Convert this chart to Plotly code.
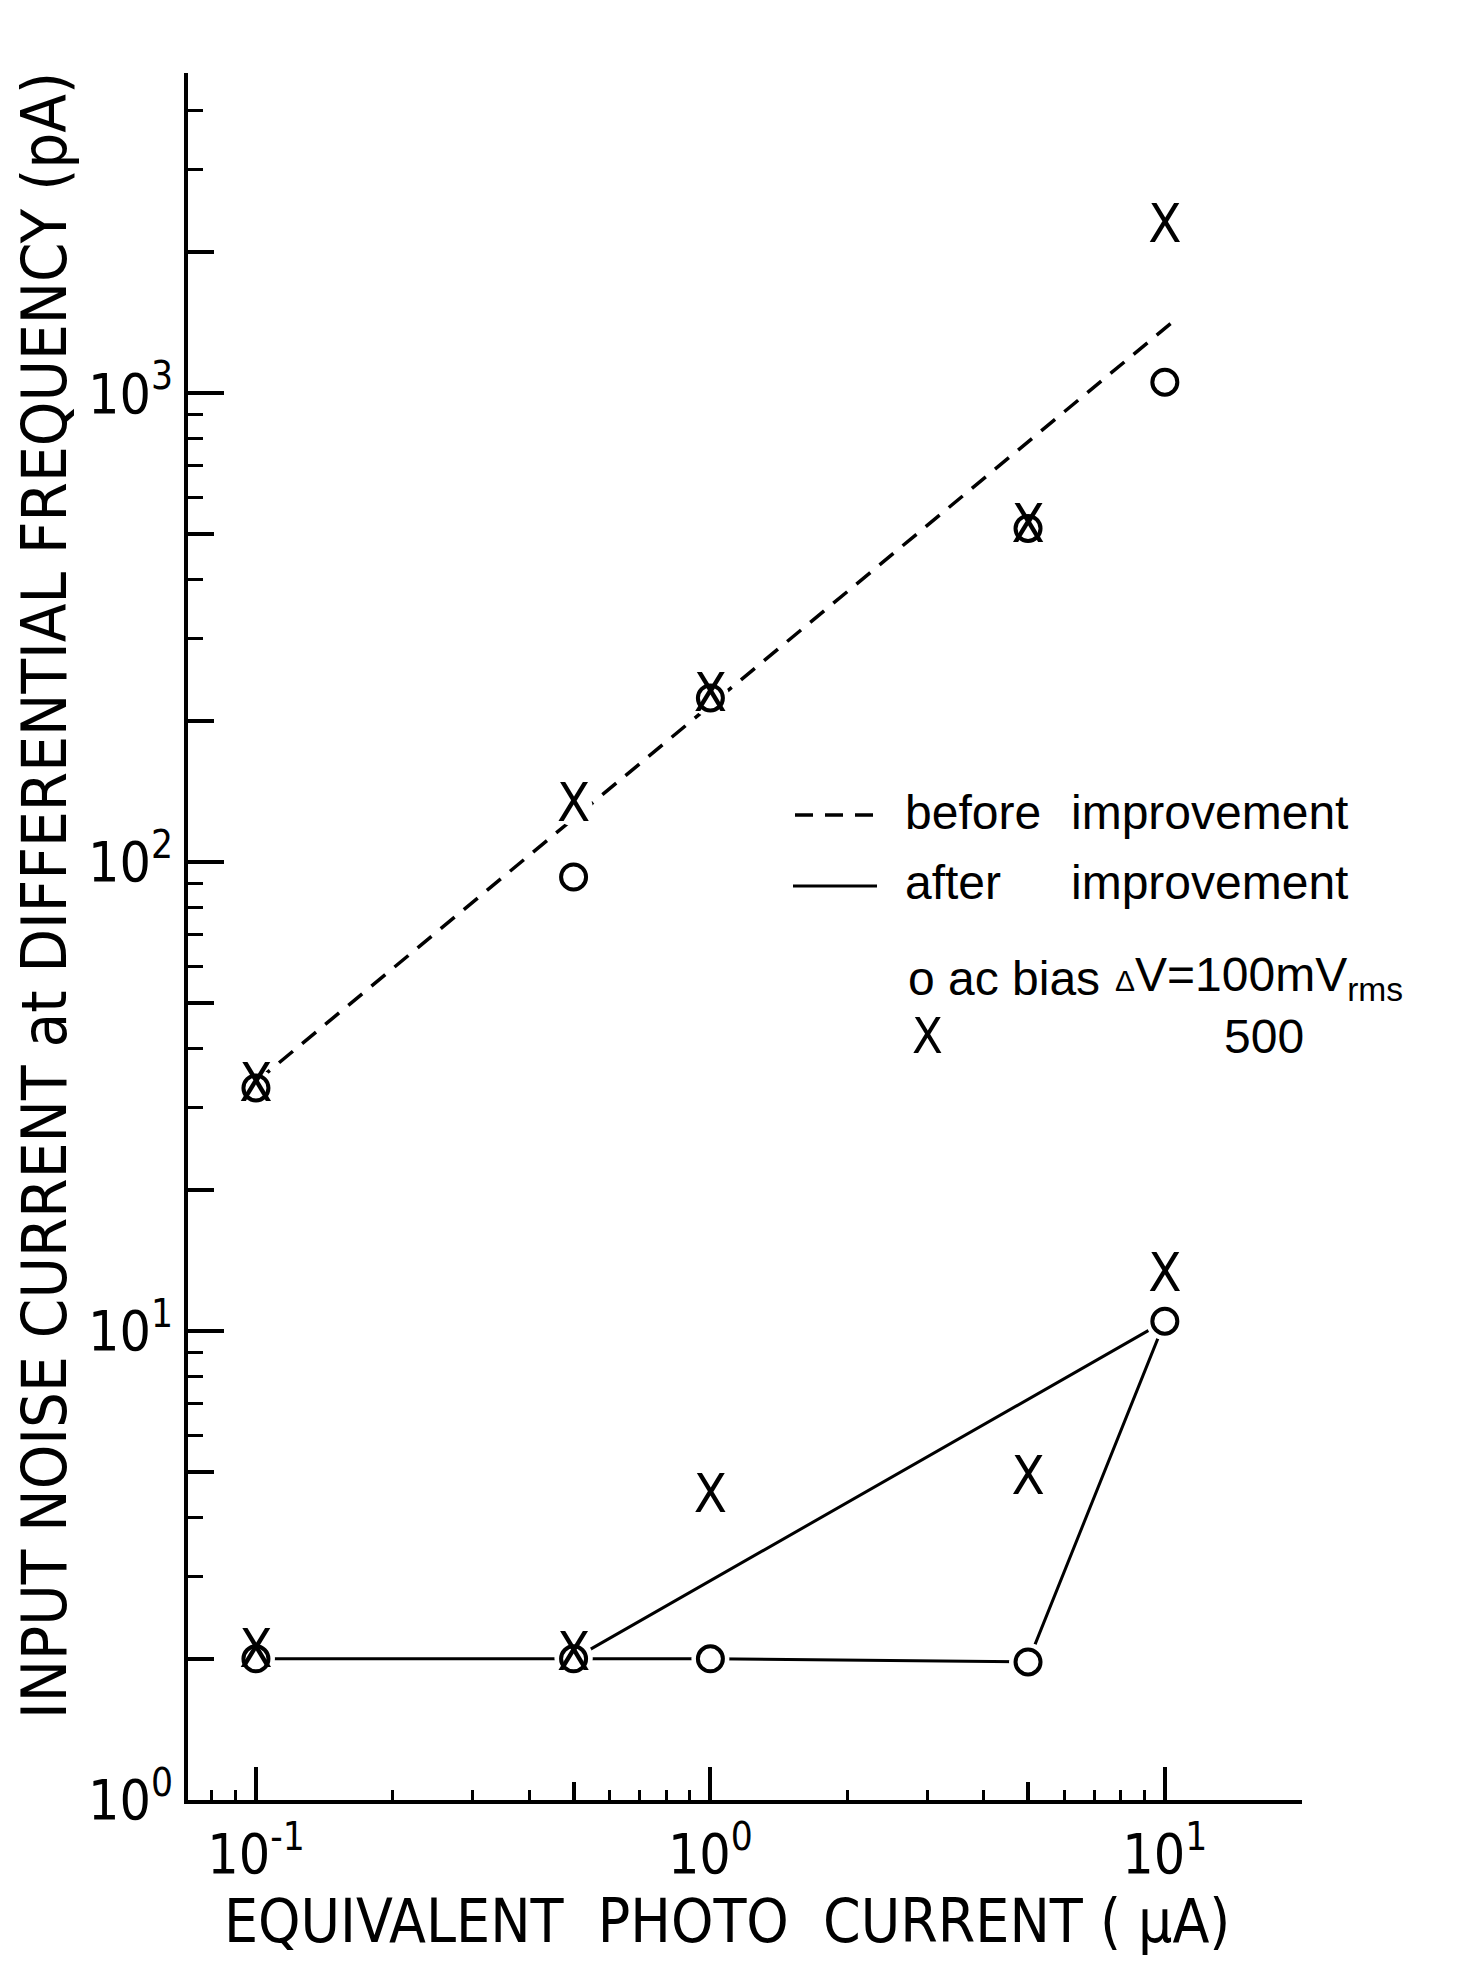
import math
import plotly.graph_objects as go

# ---------------- data ----------------
photo_current = [0.1, 0.5, 1, 5, 10]                    # µA
before_ac100 = [33, 93, 224, 515, 1056]                 # o, before improvement (pA)
before_ac500 = [33, 131, 224, 515, 2250]                # X, before improvement (pA)
after_ac100 = [2.0, 2.0, 2.0, 1.97, 10.5]               # o, after improvement (pA)
after_ac500 = [2.05, 2.02, 4.4, 4.8, 13.0]              # X, after improvement (pA)

before_fit_x = [0.1, 10.5]                              # dashed fit line
before_fit_y = [34, 1430]
after_path_idx = [0, 1, 2, 3, 4, 1]                     # solid polyline through after_ac100

x_major = [0.1, 1, 10]
x_major_text = ["10<sup>-1</sup>", "10<sup>0</sup>", "10<sup>1</sup>"]
y_major = [1, 10, 100, 1000]
y_major_text = ["10<sup>0</sup>", "10<sup>1</sup>", "10<sup>2</sup>", "10<sup>3</sup>"]

# ---------------- geometry (page pixels) ----------------
OFF = 8                       # default body margin of the html page
W, H = 1460 - 2 * OFF, 1966 - 2 * OFF
L, R, T, B = 188, 1302, 73, 1800
X_RANGE = [-1.1495, math.log10(20) + 0.0008]
Y_RANGE = [0.0, 3.683]

NARROW = "Liberation Sans Narrow, DejaVu Sans Condensed, Roboto Condensed, Liberation Sans, sans-serif"
SANS = "Liberation Sans, Arial, sans-serif"


def pp(x, y):
    return (x - L) / (R - L), (B - y) / (B - T)


x_minor = [0.08, 0.09] + [k * 0.1 for k in range(2, 10)] + [k * 1.0 for k in range(2, 10)] + [20]
x_medium = [0.5, 5]
y_minor = [k * d for d in (1, 10, 100) for k in range(2, 10)] + [2000, 3000, 4000]
y_medium = [2, 5, 20, 50, 200, 500, 2000, 10 ** 3.681]

fig = go.Figure()

# dashed line: before improvement
fig.add_trace(go.Scatter(x=before_fit_x, y=before_fit_y, mode="lines",
                         line=dict(color="black", width=3.5, dash="18px,12px"),
                         showlegend=False, hoverinfo="skip"))
# solid line: after improvement
fig.add_trace(go.Scatter(x=[photo_current[i] for i in after_path_idx],
                         y=[after_ac100[i] for i in after_path_idx], mode="lines",
                         line=dict(color="black", width=3),
                         showlegend=False, hoverinfo="skip"))
# white halos to break lines at markers
for ys in (before_ac100, before_ac500, after_ac100, after_ac500):
    fig.add_trace(go.Scatter(x=photo_current, y=ys, mode="markers",
                             marker=dict(size=38, color="white", line=dict(width=0)),
                             showlegend=False, hoverinfo="skip"))
# circles: ac bias 100 mVrms
for ys in (before_ac100, after_ac100):
    fig.add_trace(go.Scatter(x=photo_current, y=ys, mode="markers",
                             marker=dict(symbol="circle-open", size=25,
                                         color="black", line=dict(width=4, color="black")),
                             showlegend=False))
# X: 500 mVrms
for ys in (before_ac500, after_ac500):
    fig.add_trace(go.Scatter(x=photo_current, y=ys, mode="text",
                             text=["X"] * len(photo_current), textposition="middle center",
                             textfont=dict(family=NARROW, size=54, color="black"),
                             showlegend=False))
# empty trace to anchor overlay axes
fig.add_trace(go.Scatter(x=[], y=[], xaxis="x2", yaxis="y2", showlegend=False))

axis_common = dict(type="log", showgrid=False, zeroline=False, color="black")
fig.update_layout(
    width=W, height=H,
    margin=dict(l=L - OFF, r=W - (R - OFF), t=T - OFF, b=H - (B - OFF), pad=0),
    paper_bgcolor="white", plot_bgcolor="white",
    font=dict(family=NARROW, color="black"),
    showlegend=False,
    xaxis=dict(**axis_common, range=X_RANGE, showline=True, linewidth=4, linecolor="black",
               tickmode="array", tickvals=x_major, ticktext=x_major_text,
               ticks="inside", ticklen=33, tickwidth=4, tickcolor="black",
               tickfont=dict(family=NARROW, size=55, color="black"),
               ticklabelstandoff=3,
               minor=dict(tickmode="array", tickvals=x_minor, ticks="inside",
                          ticklen=10, tickwidth=3, tickcolor="black")),
    yaxis=dict(**axis_common, range=Y_RANGE, showline=True, linewidth=4, linecolor="black",
               tickmode="array", tickvals=y_major, ticktext=y_major_text,
               ticks="inside", ticklen=36, tickwidth=4, tickcolor="black",
               tickfont=dict(family=NARROW, size=55, color="black"),
               ticklabelstandoff=0,
               minor=dict(tickmode="array", tickvals=y_minor, ticks="inside",
                          ticklen=15, tickwidth=3, tickcolor="black")),
    xaxis2=dict(**axis_common, range=X_RANGE, overlaying="x", anchor="y", side="bottom",
                showline=False, showticklabels=False, tickmode="array", tickvals=x_medium,
                ticks="inside", ticklen=18, tickwidth=4, tickcolor="black"),
    yaxis2=dict(**axis_common, range=Y_RANGE, overlaying="y", anchor="x", side="left",
                showline=False, showticklabels=False, tickmode="array", tickvals=y_medium,
                ticks="inside", ticklen=26, tickwidth=4, tickcolor="black"),
)

ann = []


def add_text(px, py, text, size, family=SANS, xanchor="left", angle=0):
    x, y = pp(px, py)
    ann.append(dict(x=x, y=y, xref="paper", yref="paper", text=text, showarrow=False,
                    xanchor=xanchor, yanchor="middle", textangle=angle,
                    font=dict(family=family, size=size, color="black")))


NB = "\u00a0"
add_text(44, 896, "INPUT NOISE CURRENT at DIFFERENTIAL FREQUENCY (pA)", 63, NARROW,
         xanchor="center", angle=-90)
add_text(727, 1921, f"EQUIVALENT{NB}{NB}PHOTO{NB}{NB}CURRENT ({NB}μA)", 60, NARROW, xanchor="center")

add_text(903, 813, "before", 48)
add_text(1069, 813, "improvement", 48)
add_text(903, 882, "after", 48)
add_text(1069, 882, "improvement", 48)
add_text(906, 978, "o ac bias", 48)
add_text(1113, 978, "<span style='font-size:30px'>Δ</span>V=100mV<sub>rms</sub>", 48)
add_text(910, 1036, "X", 50, NARROW)
add_text(1222, 1036, "500", 48)
fig.update_layout(annotations=ann)

# legend line samples
x0, y0 = pp(795, 815)
x1, _ = pp(877, 815)
fig.add_shape(type="line", xref="paper", yref="paper", x0=x0, x1=x1, y0=y0, y1=y0,
              line=dict(color="black", width=3.5, dash="18px,12px"))
x0, y0 = pp(793, 886)
x1, _ = pp(877, 886)
fig.add_shape(type="line", xref="paper", yref="paper", x0=x0, x1=x1, y0=y0, y1=y0,
              line=dict(color="black", width=3))

fig.write_html("out.html")
